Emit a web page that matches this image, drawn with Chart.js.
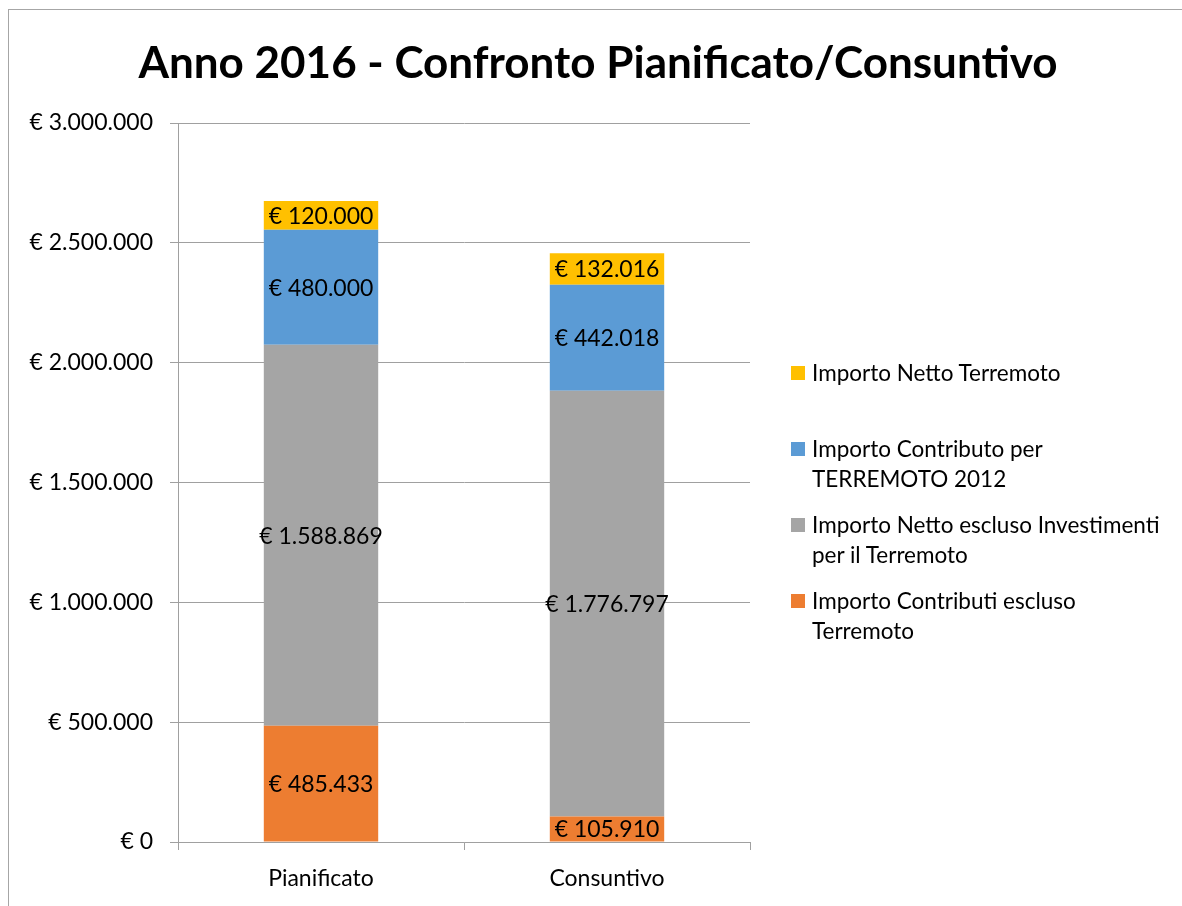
<!DOCTYPE html>
<html>
<head>
<meta charset="utf-8">
<script src="https://cdn.jsdelivr.net/npm/chart.js@4/dist/chart.umd.min.js"></script>
<style>
  html, body { margin: 0; padding: 0; background: #fff; }
  body { width: 1182px; height: 906px; position: relative; overflow: hidden; font-family: Lato, sans-serif; }
  #frame { position: absolute; left: 8px; top: 9px; width: 1200px; height: 920px; border: 1px solid #a6a6a6; box-sizing: border-box; }
  #wrap { position: absolute; left: 0; top: 0; width: 1182px; height: 906px; }
  #title { position: absolute; left: 14px; width: 1168px; top: 30px; line-height: 62px; text-align: center;
           font-weight: bold; font-size: 44px; color: #000; white-space: nowrap; }
  #legend { position: absolute; left: 791px; top: 358px; width: 390px; }
  .item { position: relative; height: 76px; padding-left: 21px; font-size: 22.5px; line-height: 30px; color: #000; white-space: nowrap; }
  .box { position: absolute; left: 0; top: 8px; width: 14px; height: 14px; }
</style>
</head>
<body>
<div id="frame"></div>
<div id="wrap"><canvas id="chart"></canvas></div>
<div id="title">Anno 2016 - Confronto Pianificato/Consuntivo</div>
<div id="legend"></div>
<script>
// categories and series (bottom of the stack first)
const categories = ["Pianificato", "Consuntivo"];
const seriesNames = [
    "Importo Contributi escluso Terremoto",
    "Importo Netto escluso Investimenti per il Terremoto",
    "Importo Contributo per TERREMOTO 2012",
    "Importo Netto Terremoto"
];
// legend text as wrapped in the original
const legendLines = [
    ["Importo Contributi escluso", "Terremoto"],
    ["Importo Netto escluso Investimenti", "per il Terremoto"],
    ["Importo Contributo per", "TERREMOTO 2012"],
    ["Importo Netto Terremoto"]
];
const contributiEsclusoTerremoto = [485433, 105910];
const nettoEsclusoInvestimenti = [1588869, 1776797];
const contributoTerremoto2012 = [480000, 442018];
const nettoTerremoto = [120000, 132016];
const seriesColors = ["#ED7D31", "#A5A5A5", "#5B9BD5", "#FFC000"];
const yTicks = [0, 500000, 1000000, 1500000, 2000000, 2500000, 3000000];

function euro(v) {
    return "€ " + String(Math.round(v)).replace(/\B(?=(\d{3})+(?!\d))/g, ".");
}

const seriesValues = [contributiEsclusoTerremoto, nettoEsclusoInvestimenti, contributoTerremoto2012, nettoTerremoto];

// labels inside each segment
const segmentLabels = {
    id: "segmentLabels",
    afterDatasetsDraw(chart) {
        const ctx = chart.ctx;
        ctx.save();
        ctx.font = "23px Lato";
        ctx.fillStyle = "#000";
        ctx.textAlign = "center";
        ctx.textBaseline = "middle";
        chart.data.datasets.forEach((ds, i) => {
            chart.getDatasetMeta(i).data.forEach((bar, j) => {
                const p = bar.getProps(["x", "y", "base"], true);
                ctx.fillText(euro(ds.data[j]), p.x, (p.y + p.base) / 2 + 1);
            });
        });
        ctx.restore();
    }
};

const ctx = document.getElementById("chart").getContext("2d");
new Chart(ctx, {
    type: "bar",
    data: {
        labels: categories,
        datasets: seriesValues.map((vals, i) => ({
            label: seriesNames[i],
            data: vals,
            backgroundColor: seriesColors[i],
            borderWidth: 0,
            categoryPercentage: 1,
            barPercentage: 0.4
        }))
    },
    options: {
        responsive: true,
        maintainAspectRatio: false,
        animation: false,
        layout: { padding: { top: 123, right: 432, bottom: 0, left: 0 } },
        plugins: {
            legend: { display: false },
            tooltip: { enabled: false }
        },
        scales: {
            x: {
                stacked: true,
                afterFit: s => { s.height = 64; },
                grid: { offset: true, drawOnChartArea: false, drawTicks: true, tickLength: 8, color: "#a0a0a0" },
                border: { color: "#a0a0a0" },
                ticks: { color: "#000", font: { family: "Lato", size: 23 }, padding: 15 }
            },
            y: {
                stacked: true,
                min: 0,
                max: 3000000,
                afterFit: s => { s.width = 178; },
                afterBuildTicks: s => { s.ticks = yTicks.map(v => ({ value: v })); },
                grid: { color: "#a0a0a0", tickLength: 8 },
                border: { color: "#a0a0a0" },
                ticks: { color: "#000", font: { family: "Lato", size: 23 }, padding: 17, callback: v => euro(v) }
            }
        }
    },
    plugins: [segmentLabels]
});

// legend on the right, top to bottom = top of stack first
const legend = document.getElementById("legend");
for (let i = seriesNames.length - 1; i >= 0; i--) {
    const item = document.createElement("div");
    item.className = "item";
    const box = document.createElement("span");
    box.className = "box";
    box.style.background = seriesColors[i];
    item.appendChild(box);
    legendLines[i].forEach((line, k) => {
        if (k > 0) item.appendChild(document.createElement("br"));
        item.appendChild(document.createTextNode(line));
    });
    legend.appendChild(item);
}
</script>
</body>
</html>
